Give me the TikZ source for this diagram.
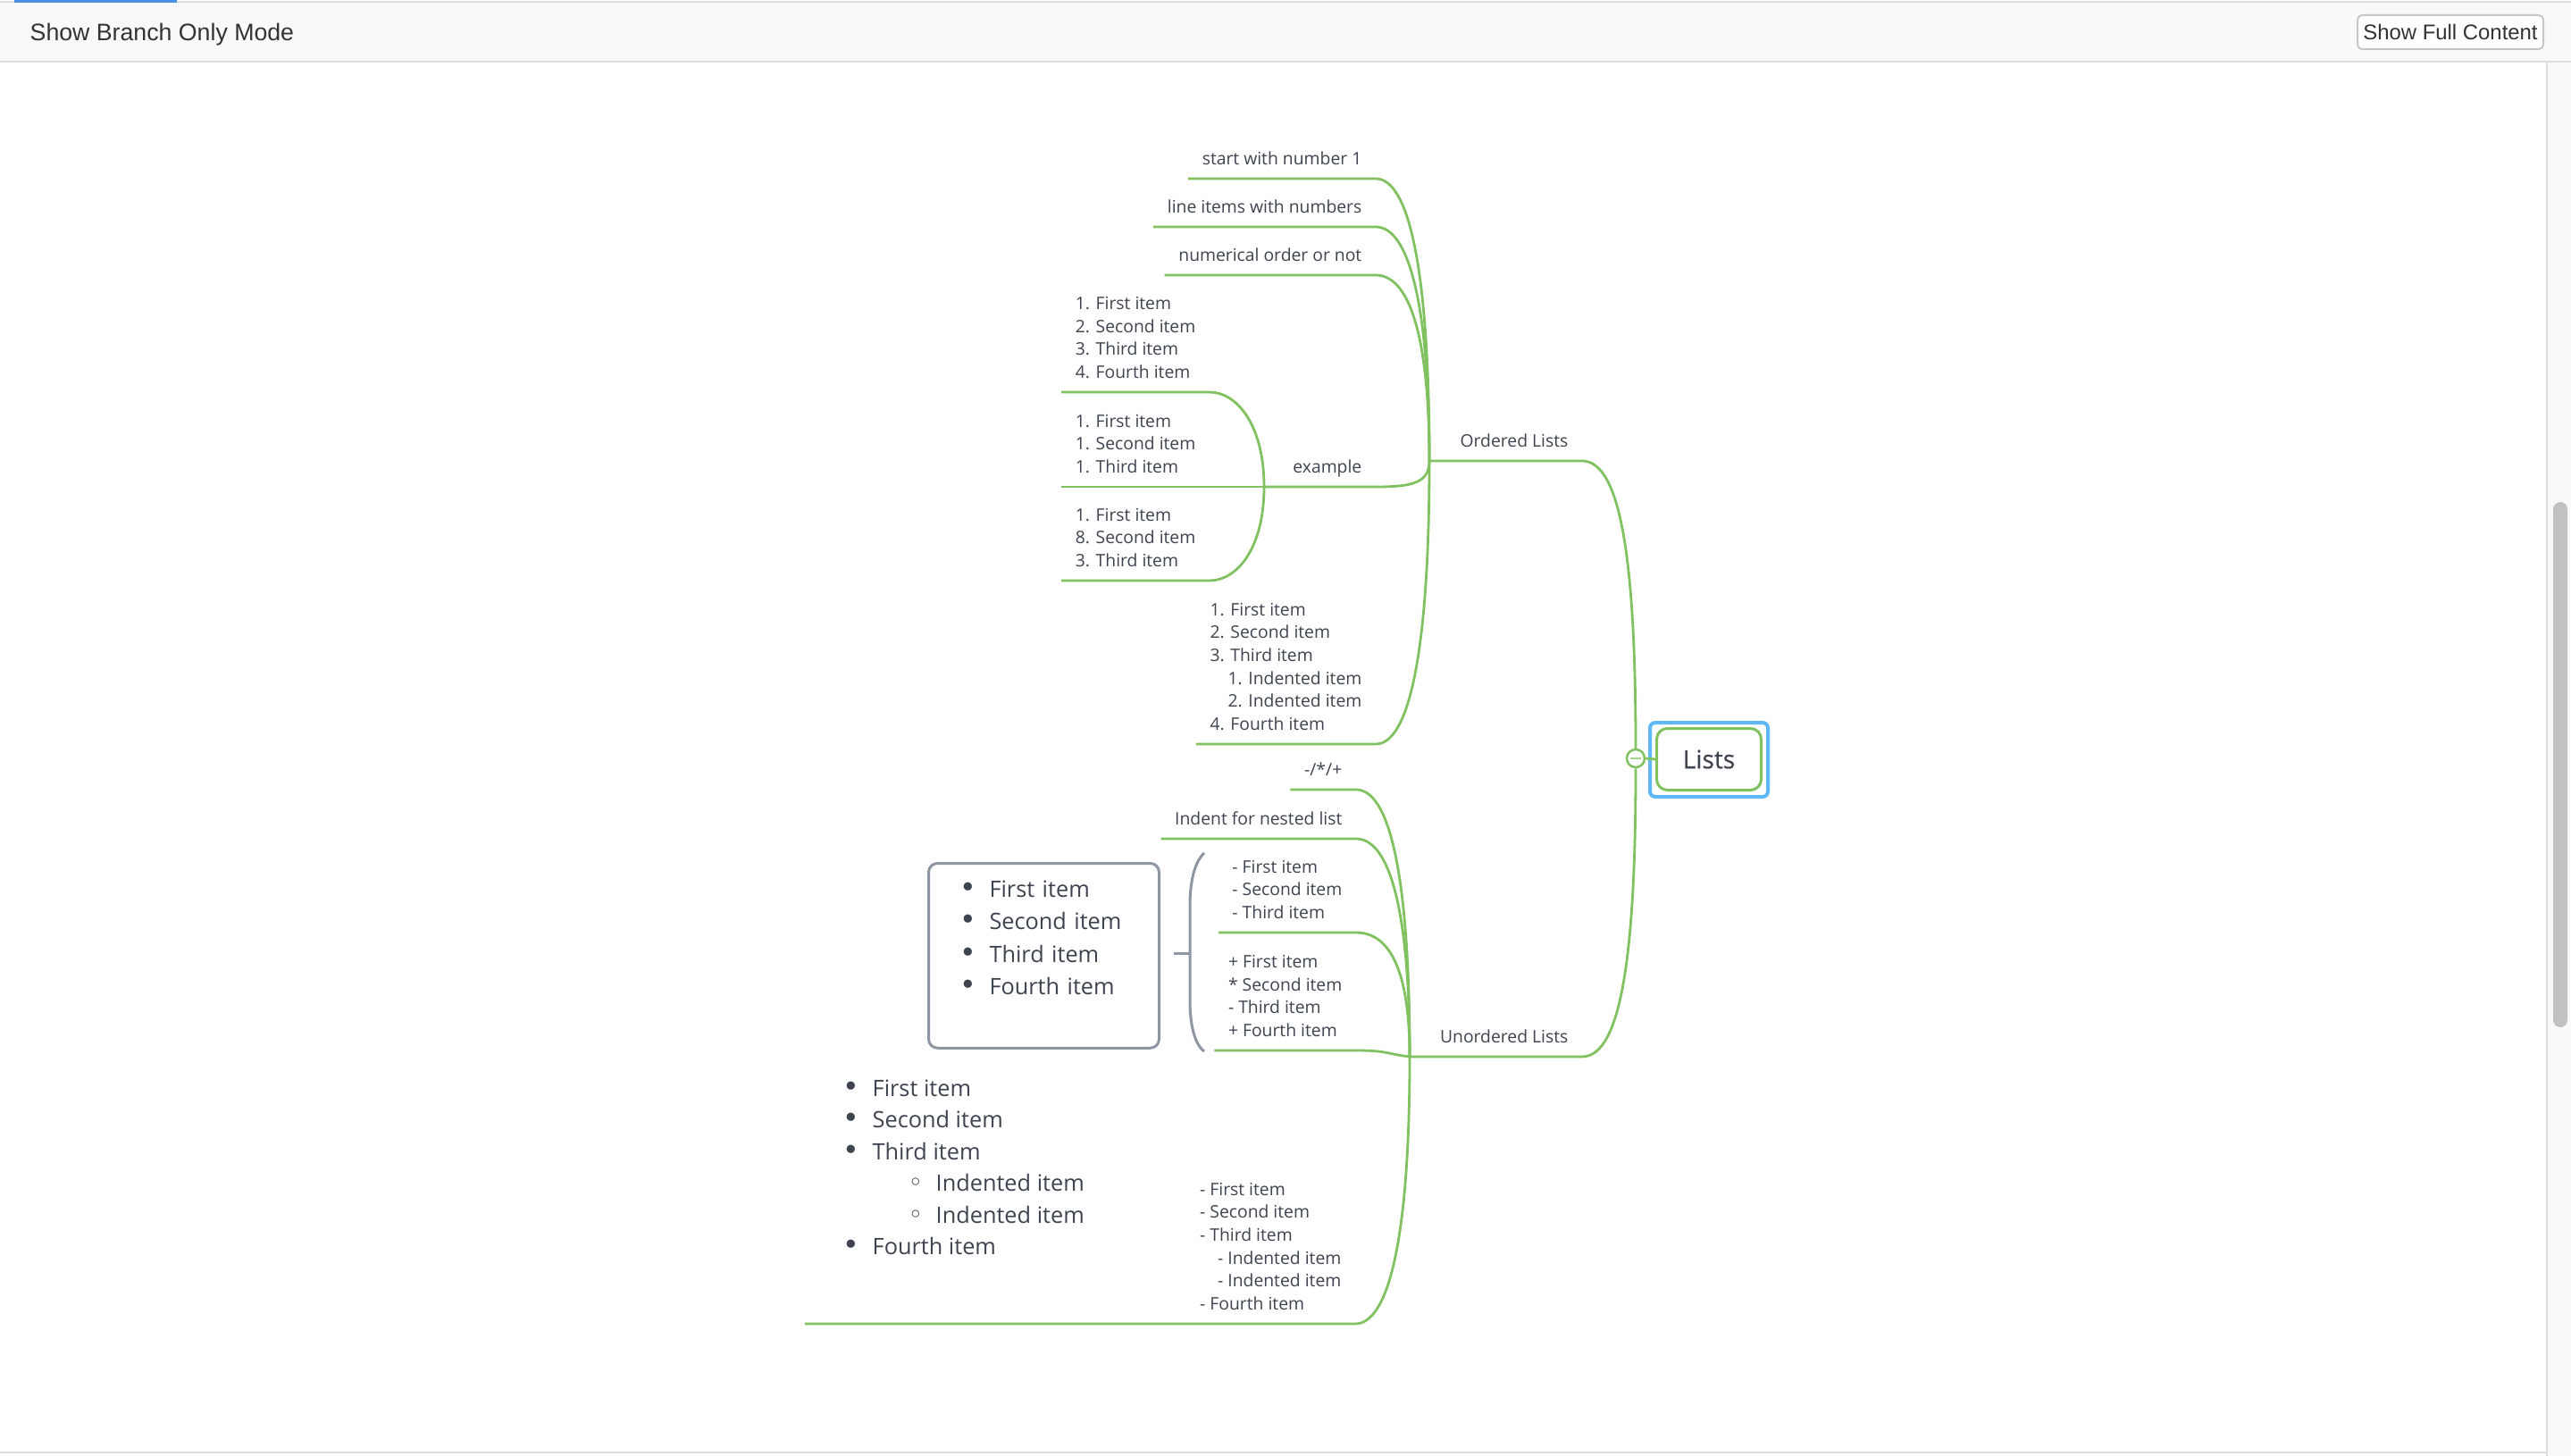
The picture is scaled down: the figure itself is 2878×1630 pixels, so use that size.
\documentclass[tikz,border=0pt]{standalone}
\usepackage{fontspec}
\setmainfont{Open Sans}
\newfontfamily\uifont{Liberation Sans}
\newfontfamily\symfont{DejaVu Sans}
\newfontfamily\rootfont[FakeBold=0.6]{Open Sans}
\usepackage{xcolor}
\definecolor{mapgreen}{RGB}{128,194,96}
\definecolor{maptext}{RGB}{62,68,79}
\definecolor{mapgray}{RGB}{141,150,162}
\definecolor{selblue}{RGB}{94,183,246}
\definecolor{barfill}{RGB}{248,249,249}
\definecolor{barline}{RGB}{221,221,221}
\definecolor{tabblue}{RGB}{74,144,226}
\definecolor{thumbgray}{RGB}{193,193,193}
\usetikzlibrary{calc,positioning}

\newcommand{\smalltext}{\fontsize{5.5pt}{7.3pt}\selectfont}
\newcommand{\bigtext}{\fontsize{7.2pt}{10.4pt}\selectfont}
\newcommand{\bul}{\makebox[3.3mm][l]{\symfont\fontsize{9pt}{9pt}\selectfont •}}
\newcommand{\subbul}{\hspace*{7.3mm}\makebox[3.1mm][l]{\symfont\fontsize{8pt}{8pt}\selectfont ◦}}

\tikzset{
  branch/.style={draw=mapgreen, line width=0.28mm},
  brace/.style={draw=mapgray, line width=0.3mm},
  twig/.style={anchor=south east, align=left, text=maptext, font=\smalltext,
    inner xsep=1.5mm, inner ysep=0.7mm,
    execute at begin node=\strut, execute at end node=\strut},
  richlist/.style={anchor=north west, align=left, text=maptext, font=\bigtext,
    inner sep=0pt, execute at begin node=\strut, execute at end node=\strut},
  sumbox/.style={richlist, draw=mapgray, line width=0.3mm, rounded corners=1mm,
    inner xsep=3.5mm, inner ysep=1.2mm, text width=18.8mm},
  rootbox/.style={draw=mapgreen, fill=white, line width=0.3mm, rounded corners=1.2mm,
    minimum width=11.7mm, minimum height=6.9mm, text=maptext,
    font=\rootfont\fontsize{8pt}{9pt}\selectfont},
}

\begin{document}
\begin{tikzpicture}[x=0.1mm, y=-0.1mm]
  \fill[white] (0,0) rectangle (2878,1630);
  \useasboundingbox (0,0) rectangle (2878,1630);

  % top bar
  \fill[barfill] (0,2) rectangle (2878,69);
  \draw[barline, line width=0.2mm] (0,2) -- (2878,2);
  \draw[barline, line width=0.25mm] (0,69) -- (2878,69);
  \fill[tabblue] (16,0) rectangle (198,3);
  \node[anchor=base west, inner sep=0, text=black!80,
    font=\uifont\fontsize{7.6pt}{9pt}\selectfont] (modelabel) at (33,46) {Show Branch Only Mode};
  \node[draw=black!22, fill=white, line width=0.2mm, rounded corners=0.5mm,
    minimum width=20.8mm, minimum height=3.8mm, inner sep=0, text=black!80,
    font=\uifont\fontsize{6.8pt}{8pt}\selectfont] (fullbtn) at (2743,36) {Show Full Content};

  % scroll bar
  \fill[barfill] (2851,70) rectangle (2878,1630);
  \draw[barline, line width=0.2mm] (2851,70) -- (2851,1630);
  \fill[thumbgray, rounded corners=0.8mm] (2858,562) rectangle (2874,1150);
  \draw[barline, line width=0.2mm] (0,1626) -- (2851,1626);

  % root
  \draw[selblue, line width=0.4mm, rounded corners=0.6mm] (1847,809) rectangle (1979,892);
  \node[rootbox] (root) at (1913,850) {Lists};
  \node[circle, draw=mapgreen, fill=white, line width=0.25mm, minimum size=2mm, inner sep=0] (hub) at (1831,849) {};
  \draw[mapgreen!70, line width=0.25mm] ([xshift=0.5mm]hub.west) -- ([xshift=-0.5mm]hub.east);
  \draw[branch] (hub.east) -- (root.west);

  % ordered lists
  \coordinate (oj) at (1600,516);
  \node[twig] (ol) at (1771,516) {Ordered Lists};
  \draw[branch] (oj) -- (ol.south east) .. controls +(45,0) and +(0,-200) .. (hub.north);

  \node[twig] (o1) at (1540,200) {start with number 1};
  \draw[branch] (o1.south west) -- (o1.south east) .. controls +(36,0) and +(0,-220) .. (oj);
  \node[twig] (o2) at (1540,254) {line items with numbers};
  \draw[branch] (o2.south west) -- (o2.south east) .. controls +(36,0) and +(0,-180) .. (oj);
  \node[twig] (o3) at (1540,308) {numerical order or not};
  \draw[branch] (o3.south west) -- (o3.south east) .. controls +(36,0) and +(0,-145) .. (oj);

  \coordinate (ej) at (1415,545);
  \node[twig] (o4) at (1540,545) {example};
  \draw[branch] (ej) -- (o4.south east) .. controls +(40,0) and +(0,25) .. (oj);
  \node[twig] (e1) at (1354,439) {1. First item\\2. Second item\\3. Third item\\4. Fourth item};
  \draw[branch] (e1.south west) -- (e1.south east) .. controls +(30,0) and +(0,-70) .. (ej);
  \node[twig] (e2) at (1354,545) {1. First item\\1. Second item\\1. Third item};
  \draw[branch] (e2.south west) -- (ej);
  \node[twig] (e3) at (1354,650) {1. First item\\8. Second item\\3. Third item};
  \draw[branch] (e3.south west) -- (e3.south east) .. controls +(30,0) and +(0,70) .. (ej);

  \node[twig] (o5) at (1540,833) {1. First item\\2. Second item\\3. Third item\\
    \hspace*{2mm}1. Indented item\\\hspace*{2mm}2. Indented item\\4. Fourth item};
  \draw[branch] (o5.south west) -- (o5.south east) .. controls +(36,0) and +(0,220) .. (oj);

  % unordered lists
  \coordinate (uj) at (1578,1183);
  \node[twig] (ul) at (1771,1183) {Unordered Lists};
  \draw[branch] (uj) -- (ul.south east) .. controls +(45,0) and +(0,200) .. (hub.south);

  \node[twig] (u1) at (1518,884) {-/*/+};
  \draw[branch] (u1.south west) -- (u1.south east) .. controls +(36,0) and +(0,-210) .. (uj);
  \node[twig] (u2) at (1518,939) {Indent for nested list};
  \draw[branch] (u2.south west) -- (u2.south east) .. controls +(36,0) and +(0,-170) .. (uj);
  \node[twig] (u3) at (1518,1044) {- First item\\- Second item\\- Third item};
  \draw[branch] (u3.south west) -- (u3.south east) .. controls +(36,0) and +(0,-100) .. (uj);
  \node[twig] (u4) at (1518,1176) {+ First item\\{}* Second item\\- Third item\\+ Fourth item};
  \draw[branch] (u4.south west) -- (u4.south east) .. controls +(35,0) and +(-25,-3) .. (uj);

  \coordinate (u5l) at (901,1482);
  \node[twig] (u5) at (1517,1482) {- First item\\- Second item\\- Third item\\
    \hspace*{2mm}- Indented item\\\hspace*{2mm}- Indented item\\- Fourth item};
  \draw[branch] (u5l) -- (u5.south east) .. controls +(36,0) and +(0,210) .. (uj);
  \node[richlist, font=\fontsize{7.2pt}{10.1pt}\selectfont] (u5pic) at (943,1208)
    {\bul First item\\\bul Second item\\\bul Third item\\
    \subbul Indented item\\\subbul Indented item\\\bul Fourth item};

  % summary of u3 and u4
  \coordinate (bt) at (1348,955);
  \coordinate (bb) at (1348,1177);
  \coordinate (bm) at (1332,1067);
  \coordinate (tick) at (1314,1067);
  \draw[brace] (bt) .. controls (1336,966) and (1332,990) .. (1332,1015) -- (1332,1119)
    .. controls (1332,1144) and (1336,1168) .. (bb);
  \draw[brace] (bm) -- (tick);
  \node[sumbox] (sum) at (1038,965)
    {\bul First item\\\bul Second item\\\bul Third item\\\bul Fourth item\\[-1.3mm]};
\end{tikzpicture}
\end{document}
